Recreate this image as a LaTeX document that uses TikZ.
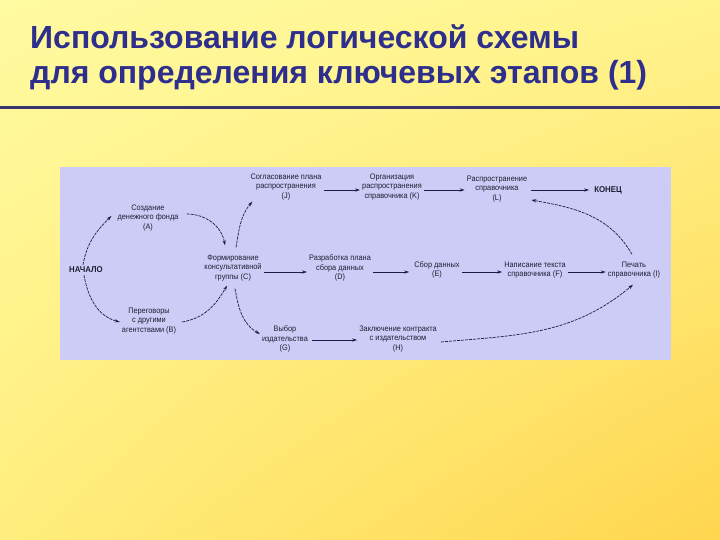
\documentclass[tikz,border=0pt]{standalone}
\usepackage{fontspec}
\setmainfont{Liberation Sans}
\newfontfamily\lab[FakeStretch=0.92]{Liberation Sans}
\usetikzlibrary{arrows.meta,shadings}
\definecolor{bgUL}{RGB}{255,251,162}
\definecolor{bgUR}{RGB}{255,243,140}
\definecolor{bgLL}{RGB}{255,238,125}
\definecolor{bgLR}{RGB}{255,214,78}
\definecolor{titlec}{RGB}{46,46,140}
\definecolor{linec}{RGB}{58,52,112}
\definecolor{panelc}{RGB}{204,204,247}
\definecolor{txt}{RGB}{30,30,50}
\definecolor{arrc}{RGB}{28,28,70}
\begin{document}
\begin{tikzpicture}[x=1pt,y=1pt,
  title/.style={font=\bfseries\fontsize{32}{36}\selectfont, text=titlec, inner sep=0pt, anchor=base west},
  lbl/.style={font=\lab\fontsize{8}{9.8}\selectfont, align=center, inner sep=2pt, text=txt},
  boldlbl/.style={font=\lab\bfseries\fontsize{8.5}{10}\selectfont, inner sep=2pt, text=txt},
  arr/.style={draw=arrc, line width=0.7pt, -{Stealth[length=5pt,width=3.2pt]}},
  carr/.style={arr, dash pattern=on 3pt off 1pt}]
\useasboundingbox (0,0) rectangle (720,540);
\shade[upper left=bgUL, upper right=bgUR, lower left=bgLL, lower right=bgLR] (0,0) rectangle (720,540);
\node[title] (t1) at (30,491) {Использование логической схемы};
\node[title] (t2) at (30,456) {для определения ключевых этапов (1)};
\draw[line width=3pt, color=linec] (0,432) -- (720,432);
\fill[panelc] (60,180) rectangle (671,373);
% nodes
\node[lbl] (A) at (148,322) {Создание\\денежного фонда\\(A)};
\node[boldlbl] (S) at (86,270) {НАЧАЛО};
\node[lbl] (B) at (149,219) {Переговоры\\с другими\\агентствами (B)};
\node[lbl] (C) at (233,272) {Формирование\\консультативной\\группы (C)};
\node[lbl] (D) at (340,272) {Разработка плана\\сбора данных\\(D)};
\node[lbl] (E) at (437,270) {Сбор данных\\(E)};
\node[lbl] (F) at (535,270) {Написание текста\\справочника (F)};
\node[lbl] (I) at (634,270) {Печать\\справочника (I)};
\node[lbl] (G) at (285,201) {Выбор\\издательства\\(G)};
\node[lbl] (H) at (398,201) {Заключение контракта\\с издательством\\(H)};
\node[lbl] (J) at (286,353) {Согласование плана\\распространения\\(J)};
\node[lbl] (K) at (392,353) {Организация\\распространения\\справочника (K)};
\node[lbl] (L) at (497,351) {Распространение\\справочника\\(L)};
\node[boldlbl] (END) at (608,350) {КОНЕЦ};
% row levels
\coordinate (rowT) at (0,350);
\coordinate (rowM) at (0,268);
\coordinate (rowB) at (0,200);
% straight arrows
\draw[arr] (J.east |- rowT) -- (K.west |- rowT);
\draw[arr] (K.east |- rowT) -- (L.west |- rowT);
\draw[arr] ([xshift=2pt]L.east |- rowT) -- ([xshift=-3pt]END.west |- rowT);
\draw[arr] (C.east |- rowM) -- (D.west |- rowM);
\draw[arr] (D.east |- rowM) -- ([xshift=-3pt]E.west |- rowM);
\draw[arr] (E.east |- rowM) -- (F.west |- rowM);
\draw[arr] (F.east |- rowM) -- (I.west |- rowM);
\draw[arr] ([xshift=2pt]G.east |- rowB) -- (H.west |- rowB);
% curved arrows
\draw[carr] ([xshift=-3pt]S.north) to[out=80,in=225] ([xshift=-4pt,yshift=2pt]A.west);
\draw[carr] ([xshift=6pt,yshift=4pt]A.east) to[out=0,in=100] ([xshift=-8pt,yshift=7pt]C.north);
\draw[carr] ([xshift=3pt,yshift=5pt]C.north) to[out=80,in=230] ([xshift=4pt,yshift=1pt]J.south west);
\draw[carr] ([xshift=-2pt]S.south) to[out=280,in=165] ([yshift=-1pt]B.west);
\draw[carr] ([xshift=4pt,yshift=-1pt]B.east) to[out=10,in=240] ([xshift=-6pt,yshift=-2pt]C.south);
\draw[carr] ([xshift=2pt,yshift=-5pt]C.south) to[out=280,in=150] ([yshift=5pt]G.west);
\draw[carr] ([xshift=2pt,yshift=-3pt]H.east) to[out=5,in=220] ([xshift=-1pt,yshift=-4pt]I.south);
\draw[carr] ([xshift=-2pt,yshift=5pt]I.north) to[out=120,in=350] ([xshift=2pt,yshift=-11pt]L.east);
\end{tikzpicture}
\end{document}
